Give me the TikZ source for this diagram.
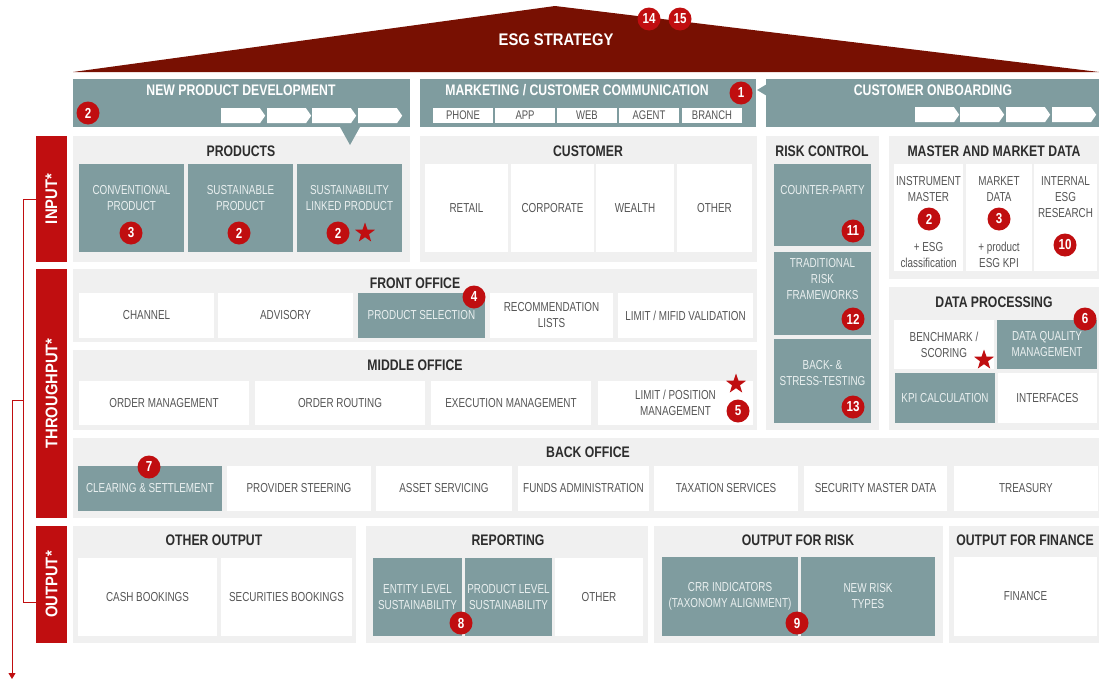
\documentclass[tikz,border=0pt]{standalone}
\usepackage{fontspec}
\setmainfont{Liberation Sans}[FakeStretch=0.76]
\newfontfamily\headfont{Liberation Sans}[FakeStretch=0.8]
\newfontfamily\barfont{Liberation Sans}[FakeStretch=0.88]
\usetikzlibrary{positioning,shapes.geometric,shapes.symbols,arrows.meta}

\definecolor{roofred}{RGB}{120,16,2}
\definecolor{markred}{RGB}{192,14,16}
\definecolor{slate}{RGB}{127,156,159}
\definecolor{panelgray}{RGB}{240,240,240}
\definecolor{headgray}{RGB}{45,45,45}
\definecolor{textgray}{RGB}{85,85,85}
\definecolor{paletext}{RGB}{234,240,240}

\begin{document}
\begin{tikzpicture}[x=1pt, y=-1pt,
    sz/.style 2 args={minimum width=#1pt, minimum height=#2pt},
    panel/.style={rectangle, fill=panelgray, anchor=north west, inner sep=0pt, outer sep=0pt},
    slatebox/.style={rectangle, fill=slate, anchor=north west, inner sep=0pt, outer sep=0pt, align=center, text=paletext, font=\fontsize{13}{16}\selectfont},
    whitebox/.style={rectangle, fill=white, anchor=north west, inner sep=0pt, outer sep=0pt, align=center, text=textgray, font=\fontsize{13}{16}\selectfont},
    paletxt/.style={align=center, inner sep=0pt, text=paletext, font=\fontsize{13}{16}\selectfont},
    graytxt/.style={align=center, inner sep=0pt, text=textgray, font=\fontsize{13}{16}\selectfont},
    sidebar/.style={rectangle, fill=markred, anchor=north west, inner sep=0pt, outer sep=0pt},
    sidetext/.style={rotate=90, text=white, font=\barfont\bfseries\fontsize{16.8}{18}\selectfont},
    title/.style={text=headgray, font=\headfont\bfseries\fontsize{15.3}{16}\selectfont},
    whitetitle/.style={text=white, font=\headfont\bfseries\fontsize{15.3}{16}\selectfont},
    badge/.style={circle, fill=markred, text=white, minimum size=23pt, inner sep=0pt, font=\headfont\bfseries\fontsize{14.5}{14}\selectfont},
    starmark/.style={star, star points=5, star point ratio=2.5, fill=markred, minimum size=21pt, inner sep=0pt},
    chevron/.style={signal, signal to=east, signal pointer angle=110, fill=white, anchor=north west, inner sep=0pt, sz={44}{15}},
    chan/.style={whitebox, sz={60}{15}, font=\fontsize{12.5}{12}\selectfont},
    rline/.style={draw=markred, line width=0.9pt}]

\useasboundingbox (0,0) rectangle (1099,680);

% Roof
\fill[roofred] (73,72) -- (555,6) -- (1099,72) -- cycle;
\node[whitetitle, font=\barfont\bfseries\fontsize{16.8}{18}\selectfont] (esg) at (556,40) {ESG STRATEGY};
\node[badge] (b14) at (649,19) {14};
\node[badge] (b15) at (680,19) {15};

% Top row
\node[slatebox, sz={337}{48}] (npd) at (73,79) {};
\node[whitetitle] (npdT) at (241,90) {NEW PRODUCT DEVELOPMENT};
\node[chevron] (npd1) at (221,108) {};
\node[chevron] (npd2) at (267,108) {};
\node[chevron] (npd3) at (312,108) {};
\node[chevron] (npd4) at (358,108) {};
\node[badge] (bNpd) at (88,113) {2};

\node[slatebox, sz={336}{48}] (mkt) at (420,79) {};
\node[whitetitle] (mktT) at (577,90) {MARKETING / CUSTOMER COMMUNICATION};
\node[chan] (phone) at (433,108) {PHONE};
\node[chan] (app) at (495,108) {APP};
\node[chan] (web) at (557,108) {WEB};
\node[chan] (agent) at (619,108) {AGENT};
\node[chan] (branch) at (682,108) {BRANCH};
\node[badge] (bMkt) at (741,93) {1};

\node[slatebox, sz={333}{48}] (onb) at (766,79) {};
\fill[slate] (757,90) -- (767,84) -- (767,96) -- cycle;
\node[whitetitle] (onbT) at (933,90) {CUSTOMER ONBOARDING};
\node[chevron] (onb1) at (915,107) {};
\node[chevron] (onb2) at (960,107) {};
\node[chevron] (onb3) at (1006,107) {};
\node[chevron] (onb4) at (1052,107) {};

% Products and customer
\node[panel, sz={337}{126}] (products) at (73,136) {};
\fill[slate] (340,127) -- (360,127) -- (350,145) -- cycle;
\node[title] (productsT) at (241,151) {PRODUCTS};
\node[slatebox, sz={105}{88}] (conv) at (79,164) {};
\node[slatebox, sz={105}{88}] (sust) at (188,164) {};
\node[slatebox, sz={105}{88}] (slp) at (297,164) {};
\node[paletxt] (convT) at ([yshift=10pt]conv.center) {CONVENTIONAL\\PRODUCT};
\node[paletxt] (sustT) at ([yshift=10pt]sust.center) {SUSTAINABLE\\PRODUCT};
\node[paletxt] (slpT) at ([yshift=10pt]slp.center) {SUSTAINABILITY\\LINKED PRODUCT};
\node[badge] (bConv) at (131,233) {3};
\node[badge] (bSust) at (239,233) {2};
\node[badge] (bSlp) at (338,233) {2};
\node[starmark] (sSlp) at (365,233) {};

\node[panel, sz={337}{126}] (customer) at (420,136) {};
\node[title] (customerT) at (588,151) {CUSTOMER};
\node[whitebox, sz={83}{88}] (retail) at (425,164) {RETAIL};
\node[whitebox, sz={83}{88}] (corporate) at (511,164) {CORPORATE};
\node[whitebox, sz={78}{88}] (wealth) at (596,164) {WEALTH};
\node[whitebox, sz={75}{88}] (otherCust) at (677,164) {OTHER};

% Risk control
\node[panel, sz={113}{294}] (risk) at (766,136) {};
\node[title] (riskT) at (822,151) {RISK CONTROL};
\node[slatebox, sz={97}{82}] (cpty) at (774,164) {};
\node[slatebox, sz={97}{83}] (trad) at (774,252) {};
\node[slatebox, sz={97}{84}] (stress) at (774,339) {};
\node[paletxt] (cptyT) at ([yshift=15pt]cpty.center) {COUNTER-PARTY};
\node[paletxt] (tradT) at ([yshift=14.5pt]trad.center) {TRADITIONAL\\RISK\\FRAMEWORKS};
\node[paletxt] (stressT) at ([yshift=7.5pt]stress.center) {BACK- \&\\STRESS-TESTING};
\node[badge] (bCpty) at (853,231) {11};
\node[badge] (bTrad) at (853,319) {12};
\node[badge] (bStress) at (853,407) {13};

% Master and market data
\node[panel, sz={210}{143}] (mmd) at (889,136) {};
\node[title] (mmdT) at (994,151) {MASTER AND MARKET DATA};
\node[whitebox, sz={69}{107}] (instr) at (894,164) {};
\node[whitebox, sz={66}{107}] (mdata) at (966,164) {};
\node[whitebox, sz={63}{107}] (intres) at (1034,164) {};
\node[graytxt] (instrT) at ([yshift=28.5pt]instr.center) {INSTRUMENT\\MASTER};
\node[graytxt] (instrN) at ([yshift=-37.5pt]instr.center) {+ ESG\\classification};
\node[graytxt] (mdataT) at ([yshift=28.5pt]mdata.center) {MARKET\\DATA};
\node[graytxt] (mdataN) at ([yshift=-37.5pt]mdata.center) {+ product\\ESG KPI};
\node[graytxt] (intresT) at ([yshift=20.5pt]intres.center) {INTERNAL\\ESG\\RESEARCH};
\node[badge] (bInstr) at (929,219) {2};
\node[badge] (bMdata) at (999,219) {3};
\node[badge] (bIntres) at (1065,245) {10};

% Data processing
\node[panel, sz={210}{143}] (dproc) at (889,287) {};
\node[title] (dprocT) at (994,302) {DATA PROCESSING};
\node[whitebox, sz={100}{49}] (bench) at (894,320) {BENCHMARK /\\SCORING};
\node[slatebox, sz={100}{49}] (dq) at (997,320) {DATA QUALITY\\MANAGEMENT};
\node[slatebox, sz={100}{50}] (kpi) at (895,373) {KPI CALCULATION};
\node[whitebox, sz={99}{50}] (intf) at (998,373) {INTERFACES};
\node[badge] (bDq) at (1085,319) {6};
\node[starmark] (sBench) at (984,360) {};

% Front office
\node[panel, sz={684}{73}] (front) at (73,269) {};
\node[title] (frontT) at (415,283) {FRONT OFFICE};
\node[whitebox, sz={135}{45}] (channel) at (79,293) {CHANNEL};
\node[whitebox, sz={135}{45}] (advisory) at (218,293) {ADVISORY};
\node[slatebox, sz={127}{45}] (prodsel) at (358,293) {PRODUCT SELECTION};
\node[whitebox, sz={123}{45}] (reclists) at (490,293) {RECOMMENDATION\\LISTS};
\node[whitebox, sz={135}{45}] (mifid) at (618,293) {LIMIT / MIFID VALIDATION};
\node[badge] (bProdsel) at (474,297) {4};

% Middle office
\node[panel, sz={684}{80}] (middle) at (73,350) {};
\node[title] (middleT) at (415,365) {MIDDLE OFFICE};
\node[whitebox, sz={170}{44}] (ordmgmt) at (79,381) {ORDER MANAGEMENT};
\node[whitebox, sz={170}{44}] (routing) at (255,381) {ORDER ROUTING};
\node[whitebox, sz={160}{44}] (exec) at (431,381) {EXECUTION MANAGEMENT};
\node[whitebox, sz={155}{44}] (limpos) at (598,381) {LIMIT / POSITION\\MANAGEMENT};
\node[starmark] (sLimpos) at (736,384) {};
\node[badge] (bLimpos) at (738,411) {5};

% Back office
\node[panel, sz={1026}{80}] (backoff) at (73,438) {};
\node[title] (backoffT) at (588,452) {BACK OFFICE};
\node[slatebox, sz={144}{45}] (clearing) at (78,466) {CLEARING \& SETTLEMENT};
\node[whitebox, sz={144}{45}] (provider) at (227,466) {PROVIDER STEERING};
\node[whitebox, sz={136}{45}] (asset) at (376,466) {ASSET SERVICING};
\node[whitebox, sz={131}{45}] (funds) at (518,466) {FUNDS ADMINISTRATION};
\node[whitebox, sz={144}{45}] (tax) at (654,466) {TAXATION SERVICES};
\node[whitebox, sz={143}{45}] (secmaster) at (804,466) {SECURITY MASTER DATA};
\node[whitebox, sz={144}{45}] (treasury) at (954,466) {TREASURY};
\node[badge] (bClearing) at (149,467) {7};

% Output row
\node[panel, sz={283}{117}] (otherout) at (73,526) {};
\node[title] (otheroutT) at (214,540) {OTHER OUTPUT};
\node[whitebox, sz={139}{78}] (cash) at (78,558) {CASH BOOKINGS};
\node[whitebox, sz={131}{78}] (secbook) at (221,558) {SECURITIES BOOKINGS};

\node[panel, sz={282}{117}] (reporting) at (366,526) {};
\node[title] (reportingT) at (508,540) {REPORTING};
\node[slatebox, sz={89}{78}] (entity) at (373,558) {ENTITY LEVEL\\SUSTAINABILITY};
\node[slatebox, sz={87}{78}] (prodlvl) at (465,558) {PRODUCT LEVEL\\SUSTAINABILITY};
\node[whitebox, sz={88}{78}] (otherRep) at (555,558) {OTHER};
\node[badge] (bEntity) at (461,623) {8};

\node[panel, sz={289}{117}] (outrisk) at (654,526) {};
\node[title] (outriskT) at (798,540) {OUTPUT FOR RISK};
\node[slatebox, sz={136}{79}] (crr) at (662,557) {CRR INDICATORS\\(TAXONOMY ALIGNMENT)};
\node[slatebox, sz={134}{79}] (newrisk) at (801,557) {NEW RISK\\TYPES};
\node[badge] (bCrr) at (797,623) {9};

\node[panel, sz={150}{117}] (outfin) at (949,526) {};
\node[title] (outfinT) at (1025,540) {OUTPUT FOR FINANCE};
\node[whitebox, sz={143}{79}] (finance) at (954,557) {FINANCE};

% Side bars
\node[sidebar, sz={31}{126}] (input) at (36,136) {};
\node[sidebar, sz={31}{249}] (through) at (36,269) {};
\node[sidebar, sz={31}{117}] (output) at (36,526) {};
\node[sidetext] (inputT) at (input.center) {INPUT*};
\node[sidetext] (throughT) at (through.center) {THROUGHPUT*};
\node[sidetext] (outputT) at (output.center) {OUTPUT*};

% Flow lines
\coordinate (split) at (23,400);
\coordinate (outEnd) at (12,679);
\draw[rline] (input.west) -- ++(-13,0) |- ([yshift=-17.5pt]output.west);
\draw[rline, -{Triangle[length=6pt, width=7pt]}] (split) -| (outEnd);

\end{tikzpicture}
\end{document}
